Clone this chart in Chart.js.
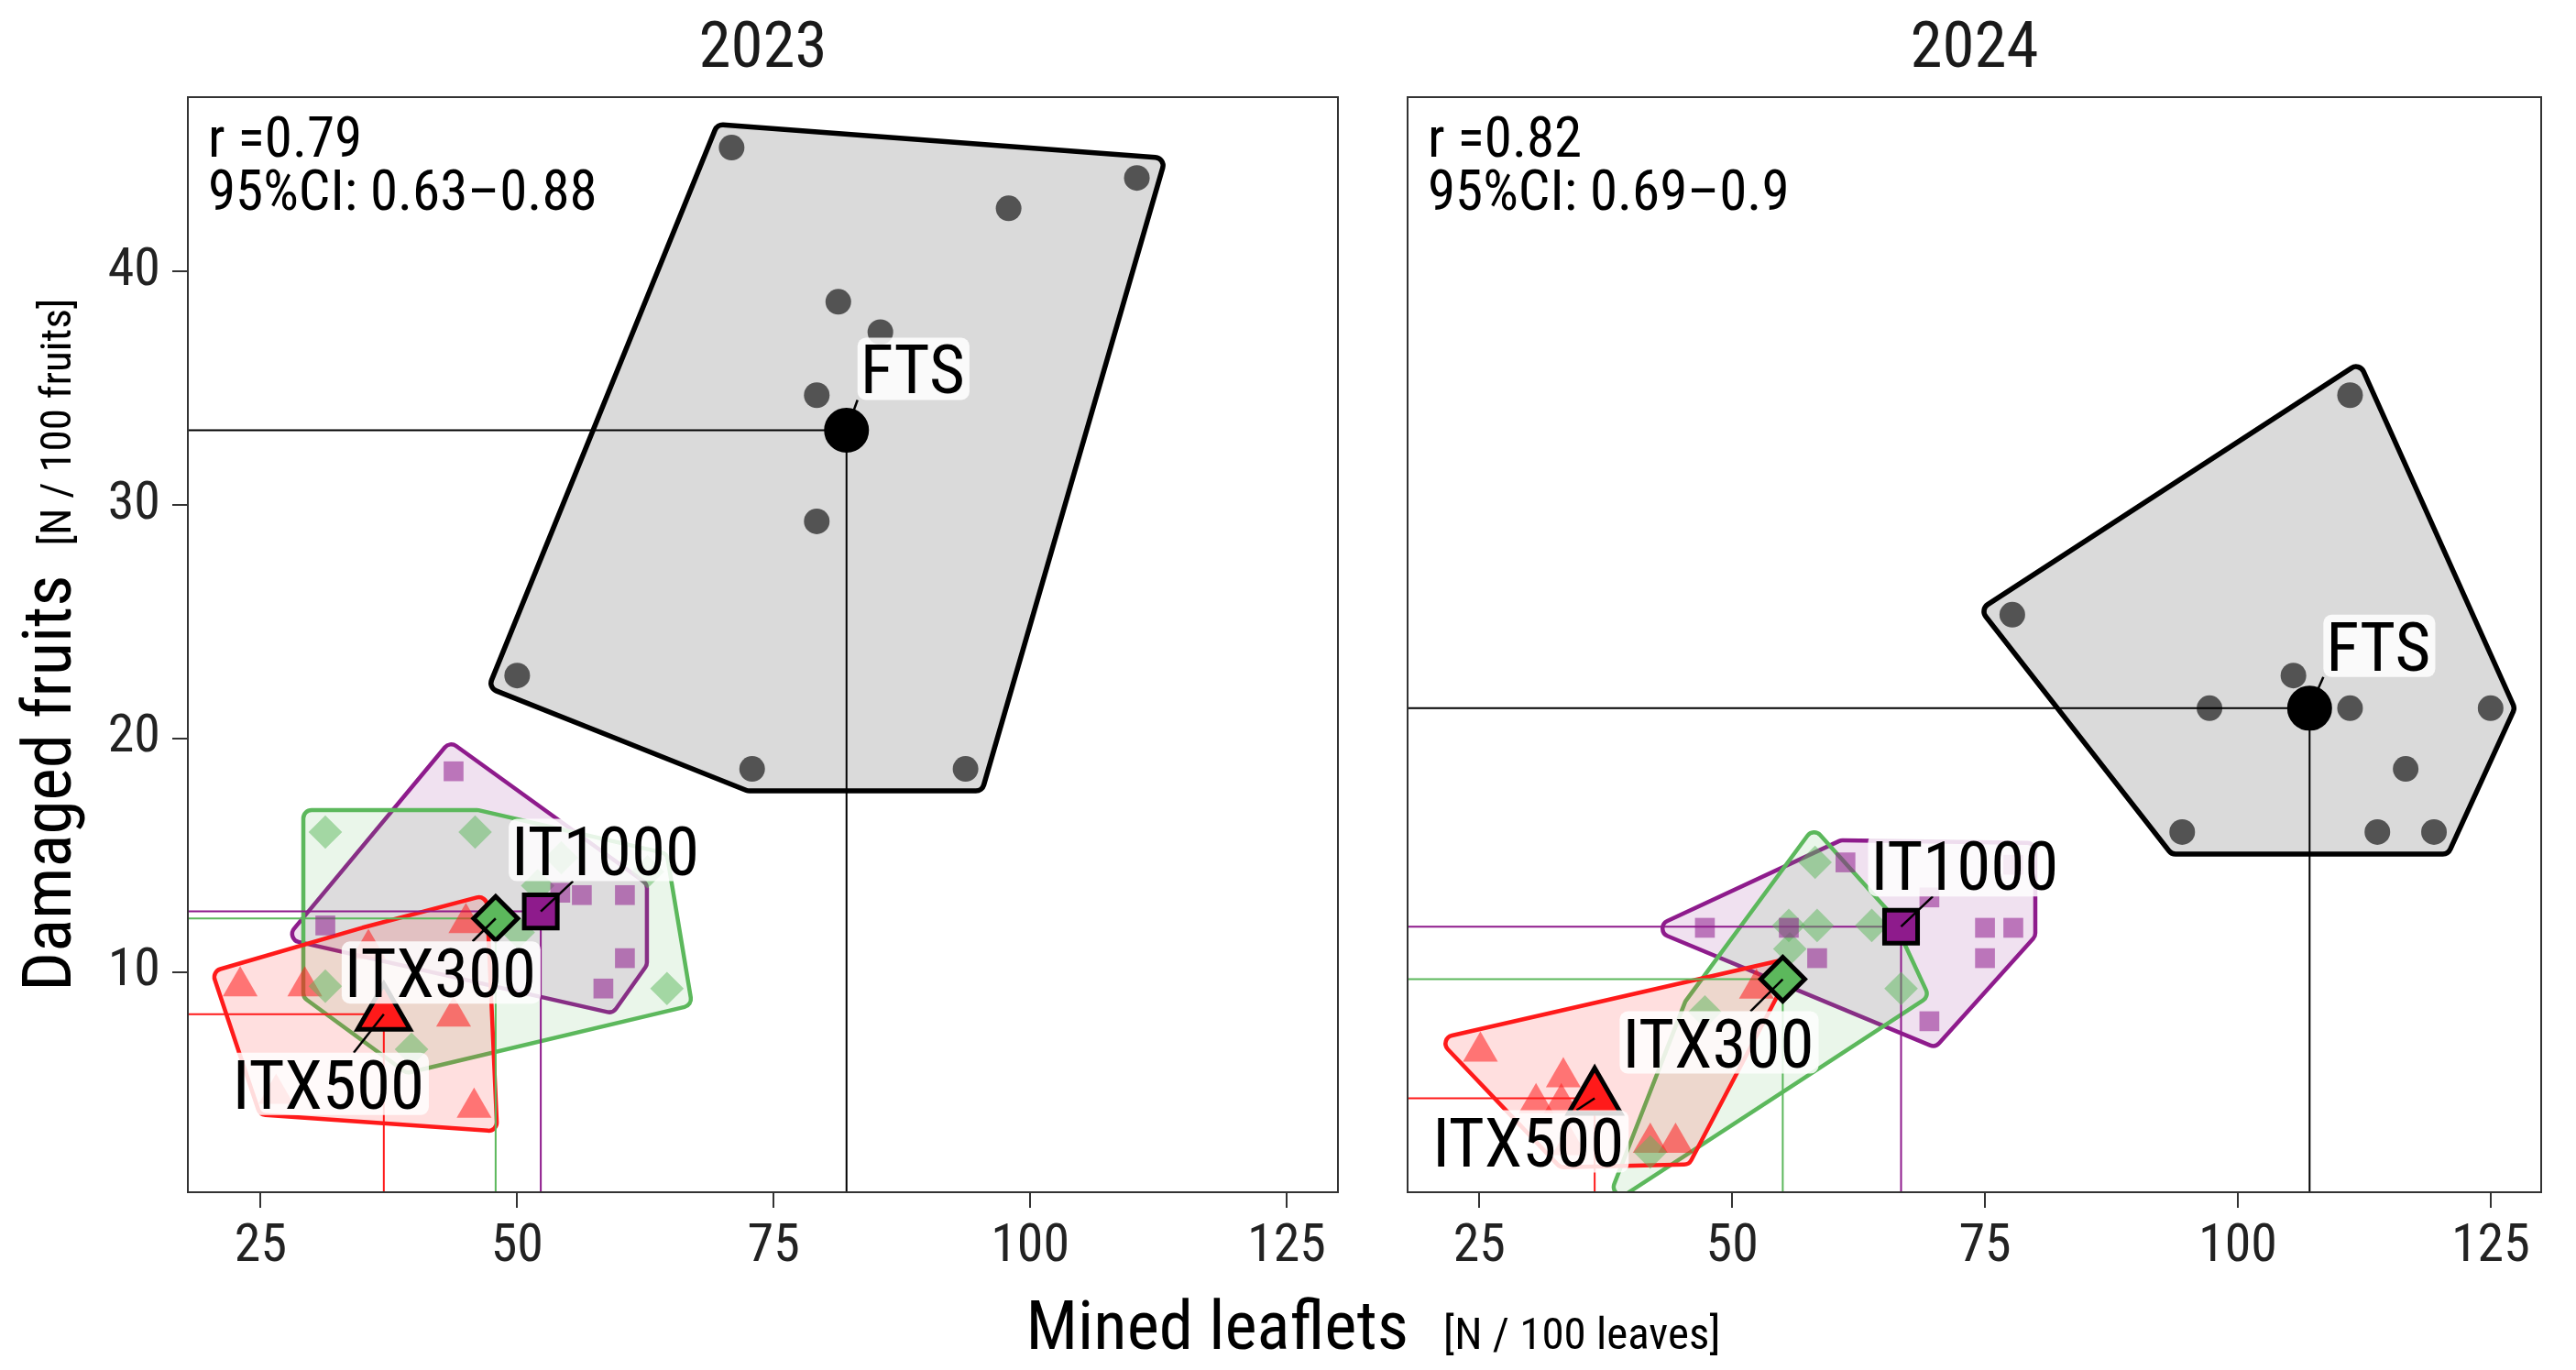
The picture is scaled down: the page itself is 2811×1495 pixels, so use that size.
<!DOCTYPE html>
<html><head><meta charset="utf-8">
<script src="https://cdn.jsdelivr.net/npm/chart.js@4.4.0/dist/chart.umd.min.js"></script>
<style>
html,body{margin:0;padding:0;background:#fff;}
#wrap{position:relative;width:2811px;height:1495px;background:#fff;}
canvas{position:absolute;left:0;top:0;}
</style></head><body>
<div id="wrap"><canvas id="c0" width="2811" height="1495"></canvas><canvas id="c1" width="2811" height="1495"></canvas></div>
<script>
// ---------------- DATA ----------------
const years = ['2023', '2024'];
const groups = ['FTS', 'IT1000', 'ITX300', 'ITX500'];
const xTicks = [25, 50, 75, 100, 125];
const yTicks = [10, 20, 30, 40];
const xTitle = 'Mined leaflets', xUnit = '[N / 100 leaves]';
const yTitle = 'Damaged fruits', yUnit = '[N / 100 fruits]';
const rTexts = ['r =0.79', 'r =0.82'];
const ciTexts = ['95%CI: 0.63\u20130.88', '95%CI: 0.69\u20130.9'];

// 2023
const fts2023X    = [70.9, 110.4, 97.9, 81.3, 85.4, 79.2, 79.2, 50.0, 72.9, 93.7];
const fts2023Y    = [45.3, 44.0, 42.7, 38.7, 37.4, 34.7, 29.3, 22.7, 18.7, 18.7];
const it1000_2023X = [43.8, 31.3, 54.2, 56.3, 60.5, 60.5, 58.4];
const it1000_2023Y = [18.6, 12.0, 13.4, 13.3, 13.3, 10.6, 9.3];
const itx300_2023X = [31.3, 45.9, 31.3, 39.7, 64.6, 52.0, 54.3, 62.7, 50.1];
const itx300_2023Y = [16.0, 16.0, 9.4, 6.7, 9.3, 13.7, 14.9, 14.3, 11.7];
const itx500_2023X = [23.0, 29.3, 43.8, 45.8, 45.0, 35.5, 26.5];
const itx500_2023Y = [9.4, 9.4, 8.1, 4.2, 12.1, 11.0, 4.8];
const mean2023X = [82.1, 52.3, 47.9, 37.0];
const mean2023Y = [33.2, 12.6, 12.3, 8.2];

// 2024
const fts2024X    = [111.1, 77.7, 105.5, 97.2, 111.1, 125.0, 116.6, 94.5, 113.8, 119.4];
const fts2024Y    = [34.7, 25.3, 22.7, 21.3, 21.3, 21.3, 18.7, 16.0, 16.0, 16.0];
const it1000_2024X = [61.2, 47.3, 55.6, 69.5, 75.0, 77.8, 75.0, 58.4, 69.5, 77.8];
const it1000_2024Y = [14.7, 11.9, 11.9, 13.2, 11.9, 11.9, 10.6, 10.6, 7.9, 14.6];
const itx300_2024X = [58.2, 55.6, 58.4, 63.8, 55.7, 66.7, 47.3, 41.9];
const itx300_2024Y = [14.7, 12.0, 12.0, 12.0, 11.0, 9.3, 8.3, 2.3];
const itx500_2024X = [25.1, 33.3, 30.6, 33.1, 41.9, 44.4, 52.4, 33.9];
const itx500_2024Y = [6.6, 5.5, 4.4, 4.4, 2.7, 2.7, 9.3, 2.6];
const mean2024X = [107.1, 66.7, 55.0, 36.4];
const mean2024Y = [21.3, 11.95, 9.7, 4.6];

// ---------------- STYLE ----------------
const FONT = "'Roboto Condensed',Roboto,sans-serif";
const STRETCH = 'condensed';
const lineCol = ['#000000', '#8e1b8c', '#5cb85c', '#ff1a1a'];
const fillCol = ['rgba(0,0,0,0.145)', 'rgba(142,27,140,0.13)', 'rgba(92,184,92,0.13)', 'rgba(255,26,26,0.14)'];
const ptCol = ['rgba(0,0,0,0.62)', 'rgba(142,27,140,0.55)', 'rgba(92,184,92,0.5)', 'rgba(255,30,30,0.55)'];
const meanCol = ['#000000', '#8e1b8c', '#5cb85c', '#ff1a1a'];
const shapes = ['circle', 'rect', 'rectRot', 'triangle'];
const ptRad = [14, 15.3, 18.3, 22];
const meanRad = [22, 25.5, 24, 33];
const hullW = [5.5, 4.5, 4.5, 4.5];
const labelOff = [
  [[17, -40], [-30, -40], [-163, 86], [-163, 103]],
  [[20, -41], [-31, -40], [-173, 96], [-175, 74]]
];
const panels = [{left: 205, right: 1460}, {left: 1536, right: 2792}];
const TOP = 106, BOTTOM = 1301, W = 2811, H = 1495;

const groupData = [
  [[fts2023X, fts2023Y], [it1000_2023X, it1000_2023Y], [itx300_2023X, itx300_2023Y], [itx500_2023X, itx500_2023Y]],
  [[fts2024X, fts2024Y], [it1000_2024X, it1000_2024Y], [itx300_2024X, itx300_2024Y], [itx500_2024X, itx500_2024Y]]
];
const meanData = [[mean2023X, mean2023Y], [mean2024X, mean2024Y]];

function F(size) { return STRETCH + ' ' + size + 'px ' + FONT; }

// ---------------- HELPERS ----------------
function convexHull(pts) {
  const p = pts.slice().sort((a, b) => a.x - b.x || a.y - b.y);
  const cr = (o, a, b) => (a.x - o.x) * (b.y - o.y) - (a.y - o.y) * (b.x - o.x);
  const lo = [], up = [];
  for (const q of p) { while (lo.length >= 2 && cr(lo[lo.length - 2], lo[lo.length - 1], q) <= 0) lo.pop(); lo.push(q); }
  for (let i = p.length - 1; i >= 0; i--) { const q = p[i]; while (up.length >= 2 && cr(up[up.length - 2], up[up.length - 1], q) <= 0) up.pop(); up.push(q); }
  lo.pop(); up.pop();
  return lo.concat(up);
}
function expandHull(h, E) {
  const n = h.length; let cx = 0, cy = 0;
  h.forEach(q => { cx += q.x; cy += q.y; }); cx /= n; cy /= n;
  const L = [];
  for (let i = 0; i < n; i++) {
    const a = h[i], b = h[(i + 1) % n];
    let dx = b.x - a.x, dy = b.y - a.y; const len = Math.hypot(dx, dy); dx /= len; dy /= len;
    let nx = dy, ny = -dx;
    if (nx * ((a.x + b.x) / 2 - cx) + ny * ((a.y + b.y) / 2 - cy) < 0) { nx = -nx; ny = -ny; }
    L.push({px: a.x + nx * E, py: a.y + ny * E, dx, dy});
  }
  const v = [];
  for (let i = 0; i < n; i++) {
    const l1 = L[(i - 1 + n) % n], l2 = L[i];
    const den = l1.dx * l2.dy - l1.dy * l2.dx;
    if (Math.abs(den) < 1e-9) { v.push({x: l2.px, y: l2.py}); continue; }
    const t = ((l2.px - l1.px) * l2.dy - (l2.py - l1.py) * l2.dx) / den;
    v.push({x: l1.px + l1.dx * t, y: l1.py + l1.dy * t});
  }
  return v;
}
function roundedPoly(ctx, v, R) {
  const n = v.length, mid = (a, b) => ({x: (a.x + b.x) / 2, y: (a.y + b.y) / 2});
  const s = mid(v[n - 1], v[0]);
  ctx.beginPath(); ctx.moveTo(s.x, s.y);
  for (let i = 0; i < n; i++) { const a = v[i], m = mid(a, v[(i + 1) % n]); ctx.arcTo(a.x, a.y, m.x, m.y, R); }
  ctx.closePath();
}
function roundRect(ctx, x, y, w, h, r) {
  ctx.beginPath(); ctx.moveTo(x + r, y); ctx.arcTo(x + w, y, x + w, y + h, r); ctx.arcTo(x + w, y + h, x, y + h, r);
  ctx.arcTo(x, y + h, x, y, r); ctx.arcTo(x, y, x + w, y, r); ctx.closePath();
}
function mixedText(ctx, cx, base, main, mainSize, unit, unitSize, gap) {
  ctx.font = F(mainSize); const w1 = ctx.measureText(main).width;
  ctx.font = F(unitSize); const w2 = ctx.measureText(unit).width;
  const x0 = cx - (w1 + gap + w2) / 2;
  ctx.textAlign = 'left'; ctx.textBaseline = 'alphabetic'; ctx.fillStyle = '#000';
  ctx.font = F(mainSize); ctx.fillText(main, x0, base);
  ctx.font = F(unitSize); ctx.fillText(unit, x0 + w1 + gap, base);
}

function panelPlugin(pi) {
  return {
    id: 'panelDecor' + pi,
    beforeDatasetsDraw(chart) {
      const {ctx, chartArea: a, scales: {x, y}} = chart;
      ctx.save();
      ctx.beginPath(); ctx.rect(a.left, a.top, a.right - a.left, a.bottom - a.top); ctx.clip();
      groupData[pi].forEach((g, gi) => {
        const pts = g[0].map((v, i) => ({x: x.getPixelForValue(v), y: y.getPixelForValue(g[1][i])}));
        const v = expandHull(convexHull(pts), 24);
        roundedPoly(ctx, v, 9);
        ctx.fillStyle = fillCol[gi]; ctx.fill();
        ctx.lineWidth = hullW[gi]; ctx.strokeStyle = lineCol[gi]; ctx.lineJoin = 'round'; ctx.stroke();
      });
      const [mx, my] = meanData[pi];
      mx.forEach((v, gi) => {
        const px = x.getPixelForValue(v), py = y.getPixelForValue(my[gi]);
        ctx.beginPath(); ctx.moveTo(a.left, py); ctx.lineTo(px, py); ctx.lineTo(px, a.bottom);
        ctx.lineWidth = 2; ctx.strokeStyle = lineCol[gi]; ctx.lineJoin = 'miter'; ctx.stroke();
      });
      ctx.restore();
    },
    afterDatasetsDraw(chart) {
      const {ctx, chartArea: a, scales: {x, y}} = chart;
      ctx.save();
      const [mx, my] = meanData[pi];
      groups.forEach((name, gi) => {
        const px = x.getPixelForValue(mx[gi]), py = y.getPixelForValue(my[gi]);
        const tl = px + labelOff[pi][gi][0], tb = py + labelOff[pi][gi][1];
        ctx.font = F(75);
        const tw = ctx.measureText(name).width;
        const B = {l: tl - 5, r: tl + tw + 3, t: tb - 61, b: tb + 7};
        let ex, ey;
        if (px < B.l || px > B.r) {
          ex = Math.min(Math.max(px, B.l), B.r); ey = Math.min(Math.max(py, B.t), B.b);
        } else {
          const cx = (B.l + B.r) / 2, cy = (B.t + B.b) / 2, dx = cx - px, dy = cy - py;
          let t = 0;
          if (dy < 0 && py > B.b) t = Math.max(t, (B.b - py) / dy);
          if (dy > 0 && py < B.t) t = Math.max(t, (B.t - py) / dy);
          ex = px + dx * t; ey = py + dy * t;
        }
        ctx.beginPath(); ctx.moveTo(px, py); ctx.lineTo(ex, ey);
        ctx.lineWidth = 2.5; ctx.strokeStyle = '#000'; ctx.stroke();
        roundRect(ctx, B.l, B.t, B.r - B.l, B.b - B.t, 9);
        ctx.fillStyle = 'rgba(255,255,255,0.85)'; ctx.fill();
        ctx.fillStyle = '#000'; ctx.textAlign = 'left'; ctx.textBaseline = 'alphabetic';
        ctx.fillText(name, tl - 2, tb);
      });
      ctx.font = F(61); ctx.fillStyle = '#000'; ctx.textAlign = 'left'; ctx.textBaseline = 'alphabetic';
      ctx.fillText(rTexts[pi], a.left + 22, 171);
      ctx.fillText(ciTexts[pi], a.left + 22, 229);
      ctx.lineWidth = 2; ctx.strokeStyle = '#333';
      ctx.strokeRect(a.left, a.top, a.right - a.left, a.bottom - a.top);
      ctx.font = F(71); ctx.textAlign = 'center'; ctx.fillStyle = '#1a1a1a';
      ctx.fillText(years[pi], (a.left + a.right) / 2, 73);
      if (pi === 0) {
        mixedText(ctx, (panels[0].left + panels[1].right) / 2, 1472, xTitle, 75, xUnit, 49, 38);
        ctx.save(); ctx.translate(77, (TOP + BOTTOM) / 2); ctx.rotate(-Math.PI / 2);
        mixedText(ctx, 0, 0, yTitle, 75, yUnit, 47, 32);
        ctx.restore();
      }
      ctx.restore();
    }
  };
}

function buildChart(pi) {
  const datasets = [];
  groupData[pi].forEach((g, gi) => {
    datasets.push({
      label: groups[gi], data: g[0].map((v, i) => ({x: v, y: g[1][i]})),
      pointStyle: shapes[gi], pointRadius: ptRad[gi], pointBackgroundColor: ptCol[gi],
      pointBorderWidth: 0, pointBorderColor: 'rgba(0,0,0,0)', showLine: false, order: 10 + gi
    });
  });
  const [mx, my] = meanData[pi];
  groups.forEach((name, gi) => {
    datasets.push({
      label: name + ' mean', data: [{x: mx[gi], y: my[gi]}],
      pointStyle: shapes[gi], pointRadius: meanRad[gi], pointBackgroundColor: meanCol[gi],
      pointBorderColor: '#000', pointBorderWidth: 5, showLine: false, order: 4 - gi
    });
  });
  const P = panels[pi];
  const tickFont = {family: FONT, size: 58, weight: STRETCH};
  return new Chart(document.getElementById('c' + pi), {
    type: 'scatter',
    data: {datasets},
    options: {
      responsive: false, animation: false, devicePixelRatio: 1, events: [],
      layout: {padding: {left: pi === 0 ? 0 : P.left, right: W - P.right, top: TOP, bottom: 0}},
      scales: {
        x: {
          type: 'linear', min: 17.9, max: 130,
          afterBuildTicks: ax => { ax.ticks = xTicks.map(v => ({value: v})); },
          afterFit: ax => { ax.height = H - BOTTOM; },
          grid: {drawOnChartArea: false, drawTicks: true, tickLength: 17, tickColor: '#333', tickWidth: 2, lineWidth: 2, color: '#333'},
          border: {display: false},
          ticks: {font: tickFont, color: '#222', padding: 9, maxRotation: 0, autoSkip: false}
        },
        y: {
          type: 'linear', min: 0.58, max: 47.46, display: pi === 0,
          afterBuildTicks: ax => { ax.ticks = yTicks.map(v => ({value: v})); },
          afterFit: ax => { if (pi === 0) ax.width = P.left; },
          grid: {drawOnChartArea: false, drawTicks: true, tickLength: 17, tickColor: '#333', tickWidth: 2, lineWidth: 2, color: '#333'},
          border: {display: false},
          ticks: {font: tickFont, color: '#222', padding: 13, autoSkip: false}
        }
      },
      plugins: {legend: {display: false}, tooltip: {enabled: false}, title: {display: false}}
    },
    plugins: [panelPlugin(pi)]
  });
}
buildChart(0);
buildChart(1);
</script>
</body></html>
